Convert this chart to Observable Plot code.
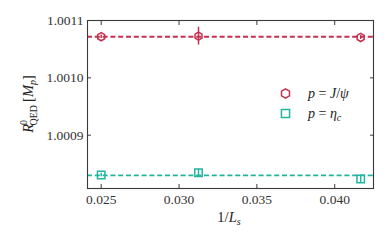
<!DOCTYPE html>
<html>
<head>
<meta charset="utf-8">
<script src="https://cdn.jsdelivr.net/npm/d3@7"></script>
<script src="https://cdn.jsdelivr.net/npm/@observablehq/plot@0.6"></script>
<style>
html, body { margin: 0; padding: 0; background: #fff; }
svg text { font-family: "Liberation Serif", "DejaVu Serif", serif; }
</style>
</head>
<body>
<div id="chart"></div>
<script>
// 1/L_s values
const invL = [1/40, 1/32, 1/24];
// R^0_QED for p = J/psi
const jpsiValues = [1.0010717, 1.0010727, 1.0010704];
const jpsiErrors = [0.0000030, 0.0000155, 0.0000035];
const jpsiFit = 1.0010717;
// R^0_QED for p = eta_c
const etacValues = [1.0008304, 1.0008344, 1.0008235];
const etacErrors = [0.0000030, 0.0000060, 0.0000060];
const etacFit = 1.0008299;
// axis ticks
const xTicks = [0.025, 0.030, 0.035, 0.040];
const yTicks = [1.0009, 1.0010, 1.0011];
const xDomain = [0.02412, 0.04249];
const yDomain = [1.000807, 1.0011];

const red = "#c4304f";
const teal = "#23b59f";

const jpsi = invL.map((x, i) => ({x, y: jpsiValues[i], e: jpsiErrors[i]}));
const etac = invL.map((x, i) => ({x, y: etacValues[i], e: etacErrors[i]}));

const frameColor = "#3a3a3a";
const fs = 13.5;

const plot = Plot.plot({
  width: 390,
  height: 241,
  marginLeft: 87,
  marginRight: 17,
  marginTop: 20,
  marginBottom: 53,
  style: {fontFamily: "Liberation Serif, serif", fontSize: fs + "px", color: "#333", background: "#fff"},
  x: {domain: xDomain},
  y: {domain: yDomain},
  marks: [
    Plot.ruleY([jpsiFit], {stroke: red, strokeWidth: 1.8, strokeDasharray: "5,2.8"}),
    Plot.ruleY([etacFit], {stroke: teal, strokeWidth: 1.8, strokeDasharray: "5,2.8"}),
    Plot.ruleX(jpsi, {x: "x", y1: d => d.y - d.e, y2: d => d.y + d.e, stroke: red, strokeWidth: 1.5}),
    Plot.ruleX(etac, {x: "x", y1: d => d.y - d.e, y2: d => d.y + d.e, stroke: teal, strokeWidth: 1.5}),
    Plot.dot(jpsi, {x: "x", y: "y", symbol: "hexagon", r: 3.5, stroke: red, strokeWidth: 1.5, fill: "none"}),
    Plot.dot(etac, {x: "x", y: "y", symbol: "square", r: 4.2, stroke: teal, strokeWidth: 1.5, fill: "none"}),
    // axes: labels
    Plot.axisX({ticks: xTicks, tickSize: 0, tickPadding: 6, tickFormat: d3.format(".3f"), label: null, fontSize: fs}),
    Plot.axisY({ticks: yTicks, tickSize: 0, tickPadding: 4, tickFormat: d3.format(".4f"), label: null, fontSize: fs}),
    // inward ticks on all sides
    Plot.axisX({ticks: xTicks, anchor: "bottom", tickSize: -4, text: null, label: null, stroke: frameColor}),
    Plot.axisX({ticks: xTicks, anchor: "top", tickSize: -4, text: null, label: null, stroke: frameColor}),
    Plot.axisY({ticks: yTicks, anchor: "left", tickSize: -4, text: null, label: null, stroke: frameColor}),
    Plot.axisY({ticks: yTicks, anchor: "right", tickSize: -4, text: null, label: null, stroke: frameColor}),
    Plot.frame({stroke: frameColor, strokeWidth: 1.1}),
    // legend symbols
    Plot.dot([0], {frameAnchor: "top-left", dx: 198, dy: 73, symbol: "hexagon", r: 4, stroke: red, strokeWidth: 1.5, fill: "none"}),
    Plot.dot([0], {frameAnchor: "top-left", dx: 198, dy: 93, symbol: "square", r: 4.6, stroke: teal, strokeWidth: 1.5, fill: "none"})
  ]
});

document.getElementById("chart").appendChild(plot);

const svg = d3.select(plot);
// y-axis label
const yl = svg.append("text")
  .attr("transform", "translate(33,104) rotate(-90)")
  .attr("text-anchor", "middle")
  .attr("fill", "#222")
  .style("font-size", "14.5px");
yl.append("tspan").attr("font-style", "italic").text("R");
yl.append("tspan").attr("font-size", "10px").attr("dy", -6).attr("dx", -1).text("0");
yl.append("tspan").attr("font-size", "10px").attr("dy", 9.5).attr("dx", -5.5).text("QED");
yl.append("tspan").attr("dy", -3.5).attr("dx", 3).text("[");
yl.append("tspan").attr("font-style", "italic").text("M");
yl.append("tspan").attr("font-style", "italic").attr("font-size", "10px").attr("dy", 3).text("p");
yl.append("tspan").attr("dy", -3).text("]");

// x-axis label
const xl = svg.append("text")
  .attr("x", 229).attr("y", 222)
  .attr("text-anchor", "middle")
  .attr("fill", "#222")
  .style("font-size", "14.5px");
xl.append("tspan").text("1/");
xl.append("tspan").attr("font-style", "italic").text("L");
xl.append("tspan").attr("font-style", "italic").attr("font-size", "10px").attr("dy", 3).text("s");

// legend text
const l1 = svg.append("text").attr("x", 308).attr("y", 98).attr("text-anchor", "start").attr("fill", "#222").style("font-size", "14px");
l1.append("tspan").attr("font-style", "italic").text("p");
l1.append("tspan").text(" = ");
l1.append("tspan").attr("font-style", "italic").text("J");
l1.append("tspan").text("/");
l1.append("tspan").attr("font-style", "italic").text("ψ");

const l2 = svg.append("text").attr("x", 308).attr("y", 118).attr("text-anchor", "start").attr("fill", "#222").style("font-size", "14px");
l2.append("tspan").attr("font-style", "italic").text("p");
l2.append("tspan").text(" = ");
l2.append("tspan").attr("font-style", "italic").text("η");
l2.append("tspan").attr("font-style", "italic").attr("font-size", "10px").attr("dy", 3).text("c");
</script>
</body>
</html>
